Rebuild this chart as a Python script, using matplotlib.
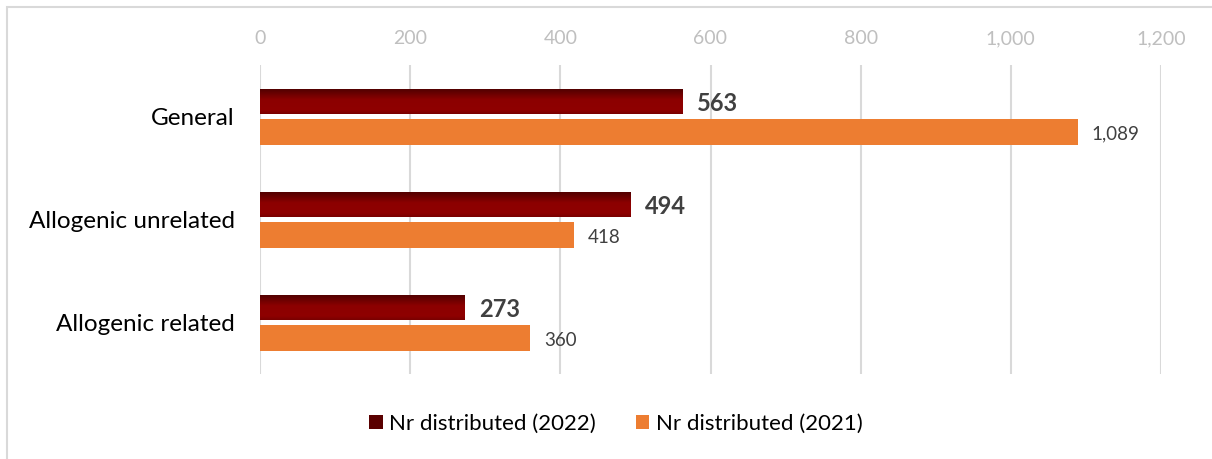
import numpy as np
import matplotlib.pyplot as plt
from matplotlib.colors import LinearSegmentedColormap
from matplotlib.patches import Rectangle

categories = ["General", "Allogenic unrelated", "Allogenic related"]
vals_2022 = [563, 494, 273]
vals_2021 = [1089, 418, 360]
label_2022 = "Nr distributed (2022)"
label_2021 = "Nr distributed (2021)"

plt.rcParams['font.family'] = ['Lato', 'DejaVu Sans']

fig = plt.figure(figsize=(12.12, 4.59), dpi=100)
ax = fig.add_axes([260 / 1212, 1 - 374 / 459, 901 / 1212, 309 / 459])

# light frame around the chart area (extends past right/bottom edge)
fig.patches.append(Rectangle((6.5 / 1212, -0.1), 1.2, 1 - 7 / 459 + 0.1,
                             transform=fig.transFigure, fill=False,
                             edgecolor='#d9d9d9', linewidth=1.5))

y = np.arange(len(categories))
h = 0.25
bars22 = ax.barh(y - 0.145, vals_2022, height=h, color='#8b0000',
                 edgecolor='none', label=label_2022, zorder=2)
bars21 = ax.barh(y + 0.15, vals_2021, height=h, color='#ed7d31',
                 edgecolor='none', label=label_2021, zorder=2)

# gradient fill for the 2022 bars
grad = LinearSegmentedColormap.from_list(
    'g', [(0, '#4d0000'), (0.45, '#8c0000'), (0.85, '#8f0000'), (1, '#7a0000')])
ramp = np.linspace(0, 1, 64).reshape(-1, 1)
for b in bars22:
    x0, y0, w, hh = b.get_x(), b.get_y(), b.get_width(), b.get_height()
    im = ax.imshow(ramp, cmap=grad, aspect='auto', origin='upper',
                   extent=(x0, x0 + w, y0 + hh, y0), zorder=2.5,
                   interpolation='bilinear')
    im.set_clip_path(b)
ax.set_aspect('auto')

for b, v in zip(bars22, vals_2022):
    ax.text(v + 19, b.get_y() + b.get_height() / 2 + 0.02, f"{v:,}",
            va='center', ha='left', fontsize=17, fontweight='bold',
            color='#404040')
for b, v in zip(bars21, vals_2021):
    ax.text(v + 19, b.get_y() + b.get_height() / 2 + 0.02, f"{v:,}",
            va='center', ha='left', fontsize=13.5, color='#404040')

ax.set_xlim(0, 1200)
ax.set_ylim(2.5, -0.5)
ax.set_xticks(range(0, 1201, 200))
ax.set_xticklabels([f"{t:,}" for t in range(0, 1201, 200)])
ax.xaxis.tick_top()
ax.tick_params(axis='x', length=0, pad=13, labelsize=14, labelcolor='#bfbfbf')
ax.set_yticks(y)
ax.set_yticklabels(categories)
ax.tick_params(axis='y', length=0, pad=18, labelsize=17.5, labelcolor='#000000')
ax.grid(axis='x', color='#d9d9d9', linewidth=1.5, zorder=0)
ax.set_axisbelow(True)
for s in ax.spines.values():
    s.set_visible(False)

leg = fig.legend(handles=[bars22, bars21], labels=[label_2022, label_2021],
                 loc='center', bbox_to_anchor=(616 / 1212, 1 - 424 / 459),
                 ncol=2, frameon=False, fontsize=16, handlelength=0.6,
                 handleheight=0.6, handletextpad=0.3, columnspacing=1.8)
leg.legend_handles[0].set_facecolor('#5a0000')

fig.savefig("out.png", dpi=100)
